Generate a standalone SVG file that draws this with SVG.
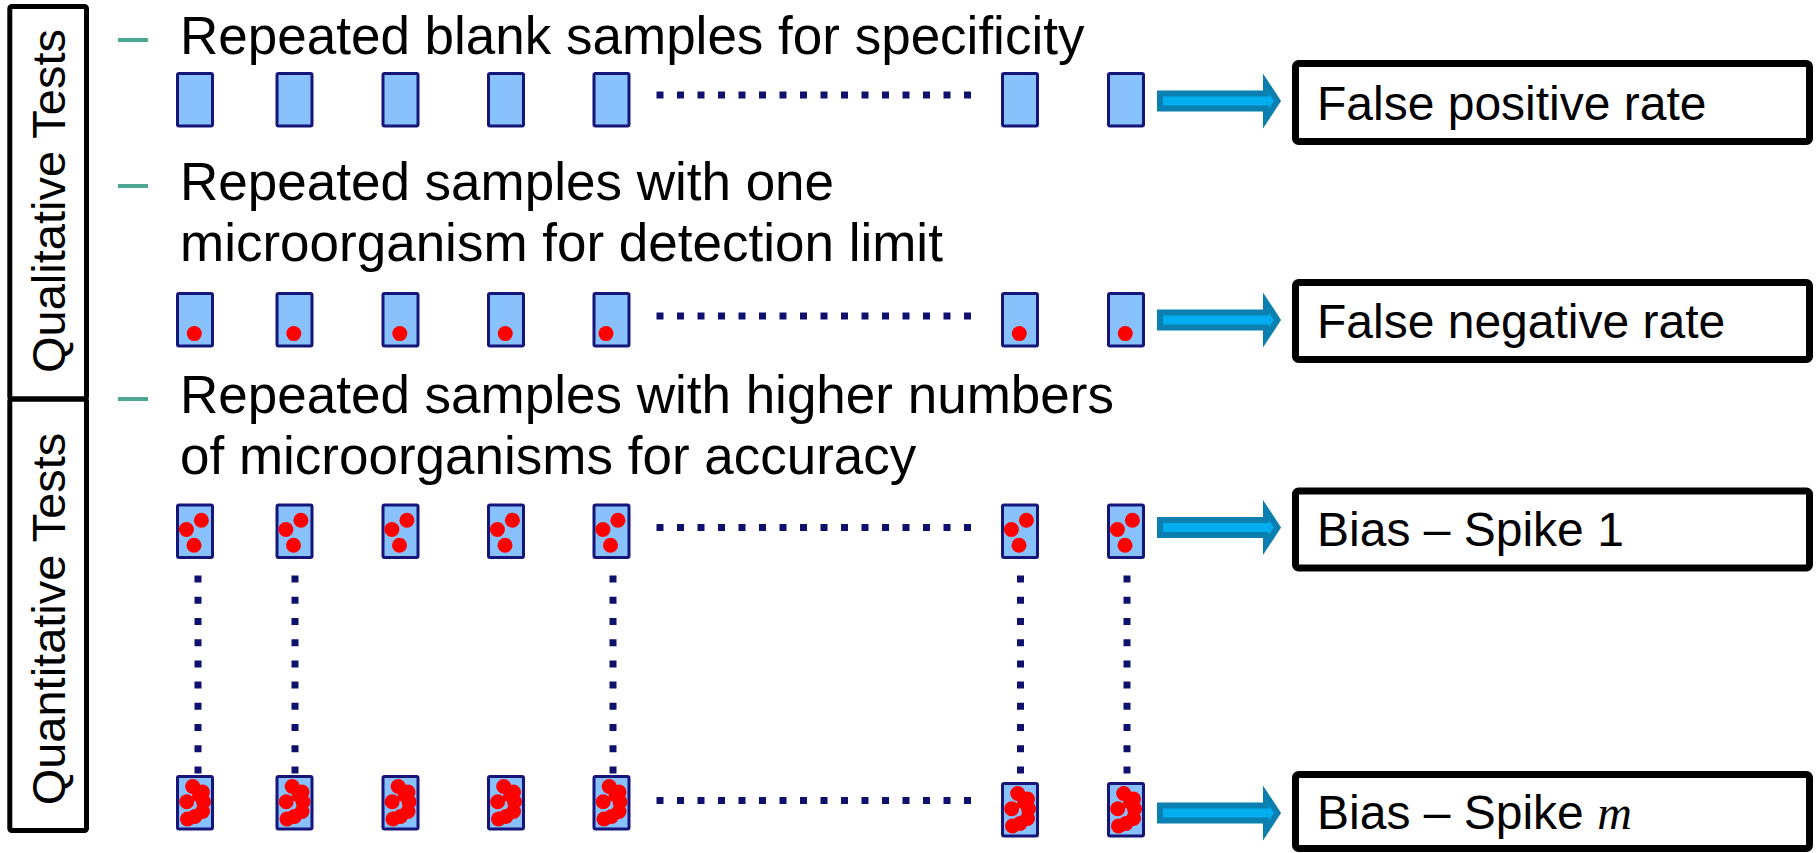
<svg xmlns="http://www.w3.org/2000/svg" xmlns:xlink="http://www.w3.org/1999/xlink" width="1820" height="853" viewBox="0 0 1820 853">
<style>
.txt{font-family:"Liberation Sans",Arial,sans-serif;fill:#000}
.bul{font-size:53px}
.side{font-size:47px}
.res{font-size:48px}
.frame{fill:none;stroke:#000;stroke-width:5}
.rbox{fill:#fff;stroke:#000;stroke-width:7}
.tube{fill:#89c1fd;stroke:#15157a;stroke-width:3}
.dot{fill:#ff0000}
.dash{stroke:#4ea792;stroke-width:4}
.hdots{stroke:#10106e;stroke-width:7;stroke-dasharray:7 13.5;fill:none}
.vdots{stroke:#10106e;stroke-width:7;stroke-dasharray:7 14.22;fill:none}
.arrow{fill:#00aeef;stroke:#0c7fb1;stroke-width:6;stroke-linejoin:miter}
</style>
<defs>
<g id="t0"><rect class="tube" x="1.5" y="1.5" width="35" height="52.5" rx="1.5"/></g>
<g id="t1"><use xlink:href="#t0"/><circle class="dot" cx="18.3" cy="41.6" r="7.5"/></g>
<g id="t3"><use xlink:href="#t0"/><circle class="dot" cx="25.4" cy="16.7" r="7.5"/><circle class="dot" cx="10.4" cy="26" r="7.5"/><circle class="dot" cx="18" cy="41.7" r="7.5"/></g>
<g id="tm"><use xlink:href="#t0"/>
<circle class="dot" cx="16.7" cy="11.5" r="7.5"/><circle class="dot" cx="26.5" cy="17" r="7.5"/><circle class="dot" cx="10.7" cy="26.7" r="7.5"/><circle class="dot" cx="27.5" cy="26.7" r="7.5"/><circle class="dot" cx="26.5" cy="36.5" r="7.5"/><circle class="dot" cx="19" cy="41.5" r="7.5"/><circle class="dot" cx="11.5" cy="44" r="7.5"/><circle class="dot" cx="22" cy="21" r="6"/>
</g>
<path id="arr" class="arrow" d="M0,-7.5 H106 V-17.5 L117.5,0 L106,17.5 V7.5 H0 Z"/>
</defs>

<g id="label-qualitative">
<rect class="frame" x="9.8" y="6.5" width="76.7" height="392.5" rx="2"/>
<text class="txt side" text-anchor="middle" transform="translate(65,201) rotate(-90)">Qualitative Tests</text>
</g>
<g id="label-quantitative">
<rect class="frame" x="9.8" y="399" width="76.7" height="431.5" rx="2"/>
<text class="txt side" text-anchor="middle" transform="translate(65,619) rotate(-90)">Quantitative Tests</text>
</g>

<g id="bullet-1">
<line class="dash" x1="118" y1="40" x2="148" y2="40"/>
<text class="txt bul" x="180" y="54">Repeated blank samples for specificity</text>
</g>
<g id="bullet-2">
<line class="dash" x1="118" y1="186" x2="148" y2="186"/>
<text class="txt bul" x="180" y="200">Repeated samples with one</text>
<text class="txt bul" x="180" y="261">microorganism for detection limit</text>
</g>
<g id="bullet-3">
<line class="dash" x1="118" y1="399" x2="148" y2="399"/>
<text class="txt bul" x="180" y="413">Repeated samples with higher numbers</text>
<text class="txt bul" x="180" y="474">of microorganisms for accuracy</text>
</g>

<g id="row-blank">
<use xlink:href="#t0" x="176" y="72"/><use xlink:href="#t0" x="275.5" y="72"/><use xlink:href="#t0" x="381.5" y="72"/><use xlink:href="#t0" x="487" y="72"/><use xlink:href="#t0" x="592.5" y="72"/><use xlink:href="#t0" x="1001" y="72"/><use xlink:href="#t0" x="1107" y="72"/>
</g>
<g id="row-one">
<use xlink:href="#t1" x="176" y="292"/><use xlink:href="#t1" x="275.5" y="292"/><use xlink:href="#t1" x="381.5" y="292"/><use xlink:href="#t1" x="487" y="292"/>
<use xlink:href="#t0" x="592.5" y="292"/><circle class="dot" cx="606" cy="333.6" r="7.5"/>
<use xlink:href="#t1" x="1001" y="292"/><use xlink:href="#t1" x="1107" y="292"/>
</g>
<g id="row-spike1">
<use xlink:href="#t3" x="176" y="503.5"/><use xlink:href="#t3" x="275.5" y="503.5"/><use xlink:href="#t3" x="381.5" y="503.5"/><use xlink:href="#t3" x="487" y="503.5"/><use xlink:href="#t3" x="592.5" y="503.5"/><use xlink:href="#t3" x="1001" y="503.5"/><use xlink:href="#t3" x="1107" y="503.5"/>
</g>
<g id="row-spikem">
<use xlink:href="#tm" x="176" y="775"/><use xlink:href="#tm" x="275.5" y="775"/><use xlink:href="#tm" x="381.5" y="775"/><use xlink:href="#tm" x="487" y="775"/><use xlink:href="#tm" x="592.5" y="775"/><use xlink:href="#tm" x="1001" y="782"/><use xlink:href="#tm" x="1107" y="782"/>
</g>

<g id="result-fp">
<rect class="rbox" x="1295.5" y="63.5" width="514" height="78" rx="3"/>
<text class="txt res" x="1317" y="120">False positive rate</text>
</g>
<g id="result-fn">
<rect class="rbox" x="1295.5" y="282.5" width="514" height="77" rx="3"/>
<text class="txt res" x="1317" y="338">False negative rate</text>
</g>
<g id="result-bias1">
<rect class="rbox" x="1295.5" y="491" width="514" height="77" rx="3"/>
<text class="txt res" x="1317" y="546">Bias – Spike 1</text>
</g>
<g id="result-biasm">
<rect class="rbox" x="1295.5" y="774.5" width="514" height="74" rx="3"/>
<text class="txt res" x="1317" y="829">Bias – Spike <tspan font-family="'Liberation Serif','DejaVu Serif',serif" font-style="italic">m</tspan></text>
</g>

<g id="connectors">
<line class="hdots" x1="656.5" y1="95" x2="974" y2="95"/>
<line class="hdots" x1="656.5" y1="316" x2="974" y2="316"/>
<line class="hdots" x1="656.5" y1="527.5" x2="974" y2="527.5"/>
<line class="hdots" x1="656.5" y1="800.5" x2="974" y2="800.5"/>
<line class="vdots" x1="198" y1="575.5" x2="198" y2="773.5"/>
<line class="vdots" x1="295" y1="575.5" x2="295" y2="773.5"/>
<line class="vdots" x1="613" y1="575.5" x2="613" y2="773.5"/>
<line class="vdots" x1="1020.5" y1="575.5" x2="1020.5" y2="773.5"/>
<line class="vdots" x1="1127" y1="575.5" x2="1127" y2="773.5"/>
<use xlink:href="#arr" x="1160" y="101"/>
<use xlink:href="#arr" x="1160" y="320"/>
<use xlink:href="#arr" x="1160" y="527.5"/>
<use xlink:href="#arr" x="1160" y="813"/>
</g>
</svg>
